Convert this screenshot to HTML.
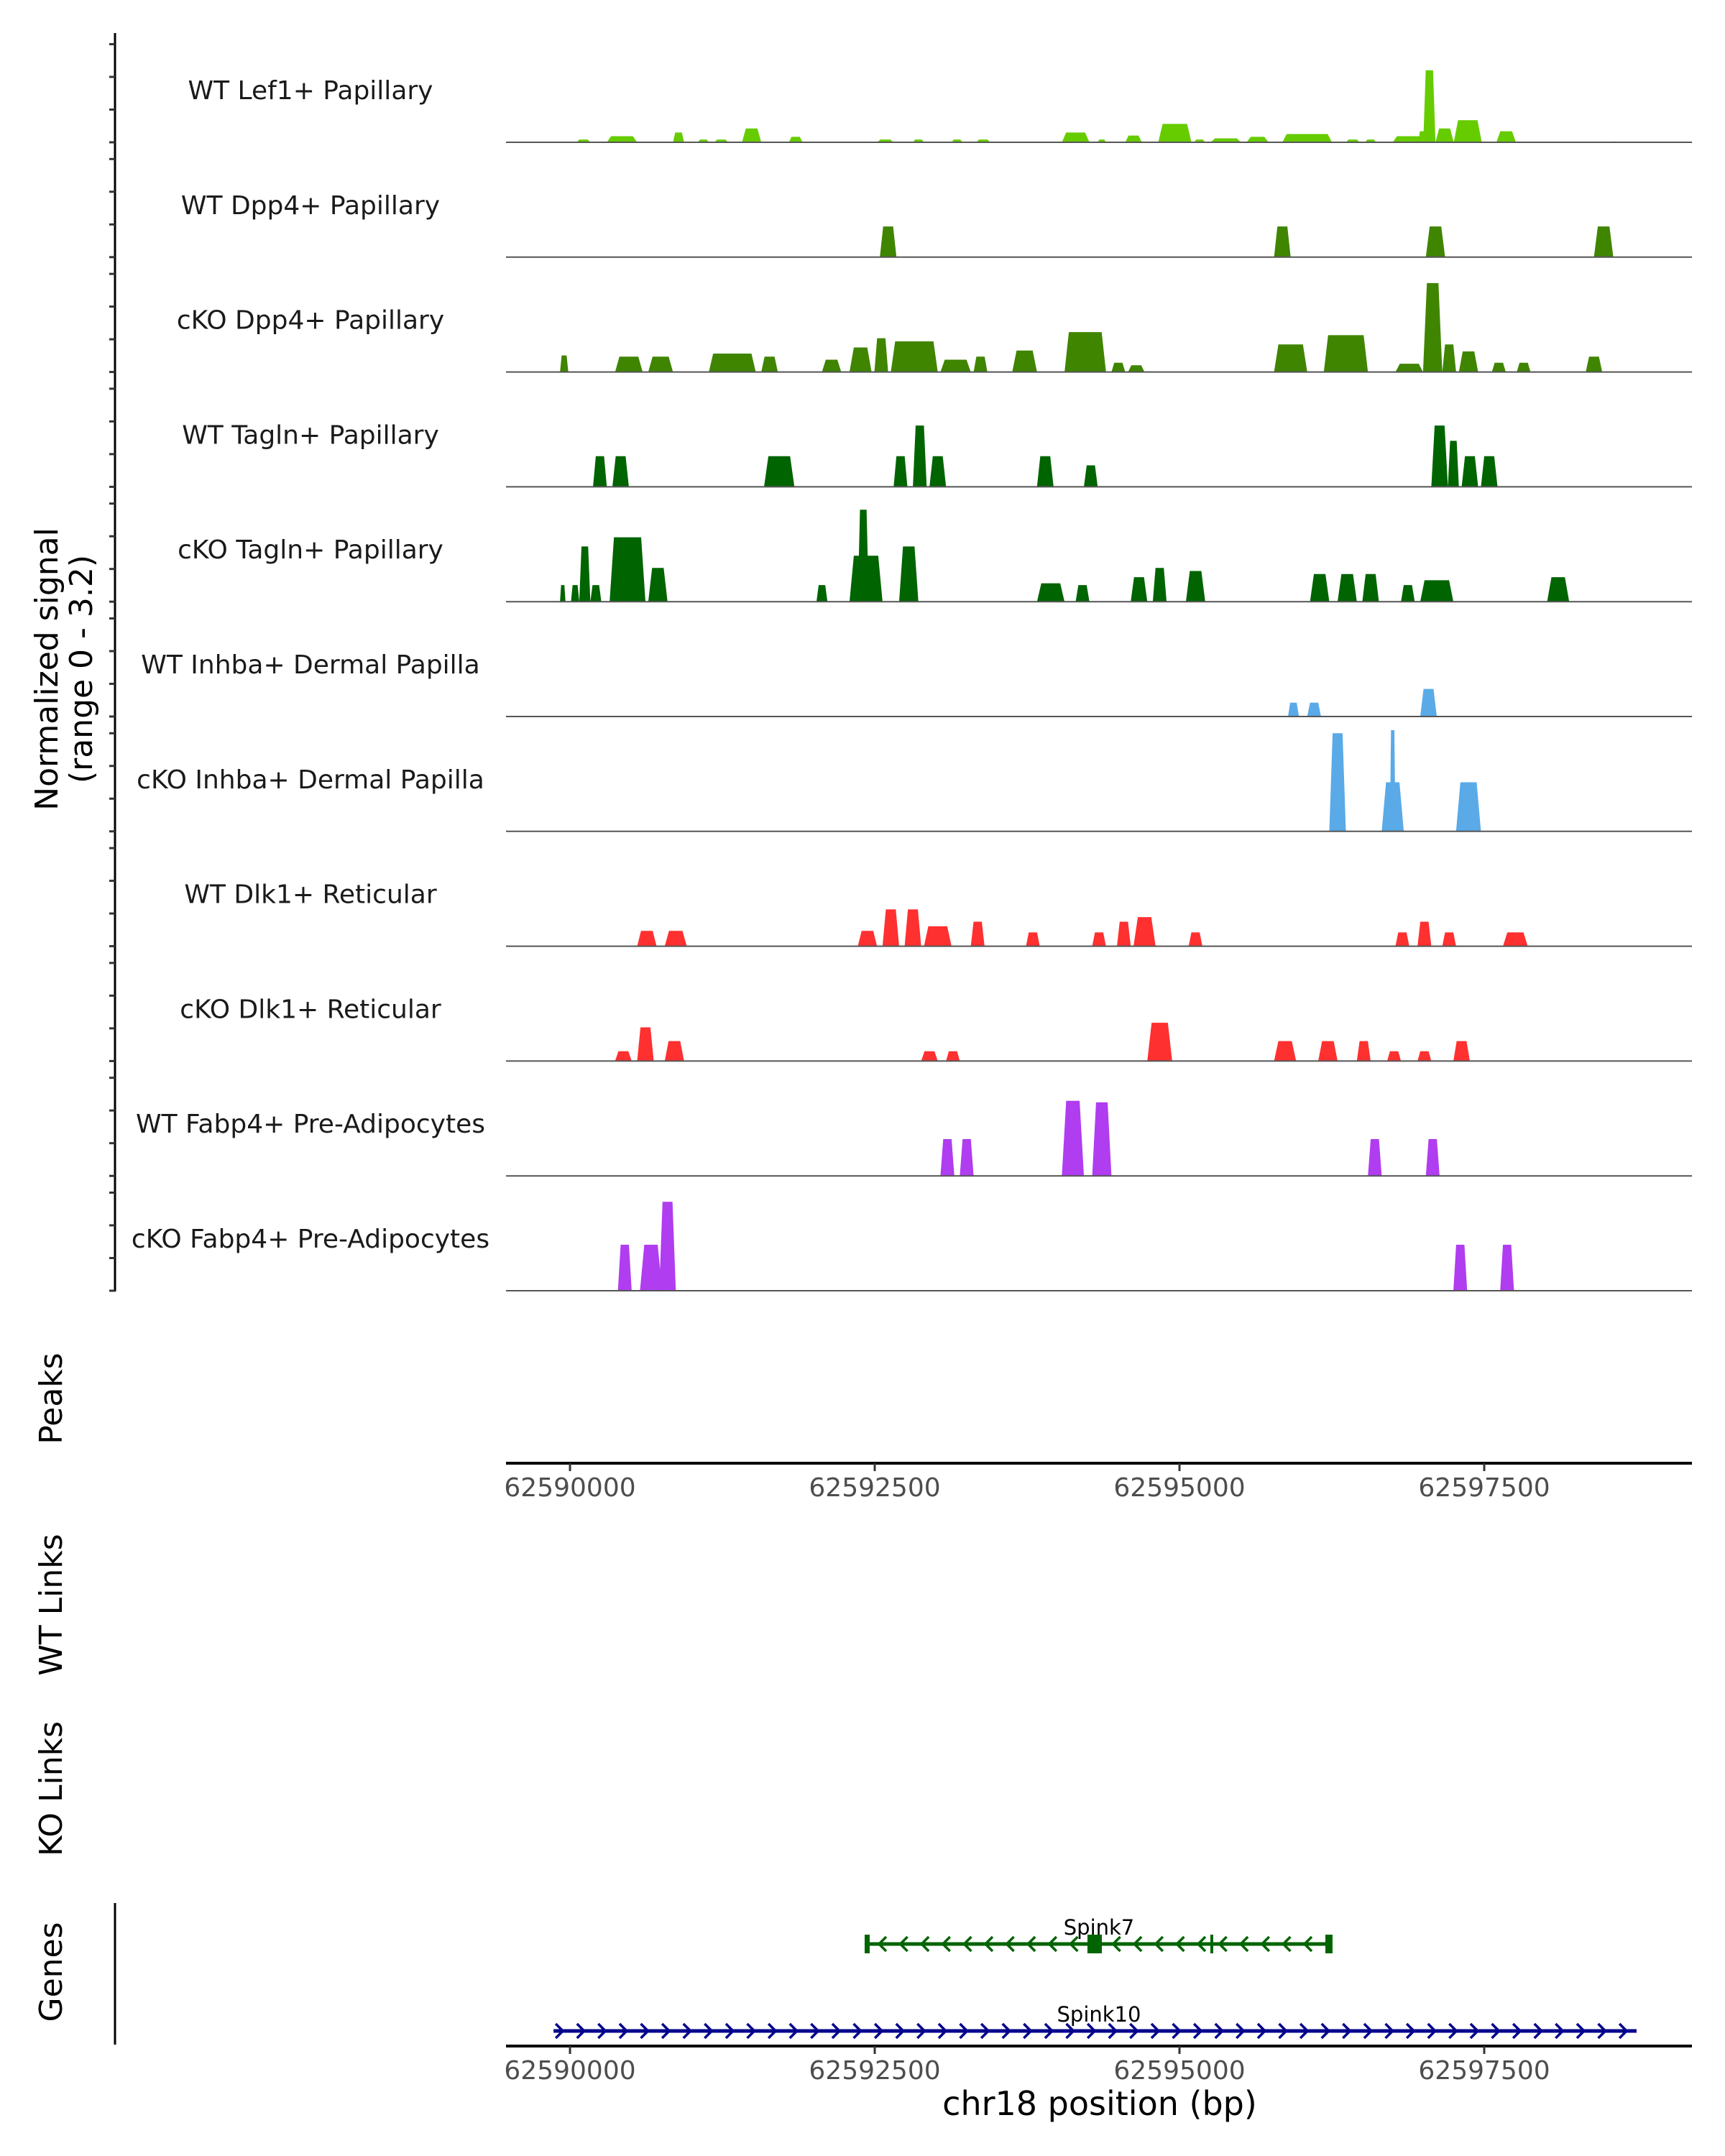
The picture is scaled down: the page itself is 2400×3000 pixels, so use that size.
<!DOCTYPE html>
<html><head><meta charset="utf-8"><style>
html,body{margin:0;padding:0;background:#fff}
svg{display:block}
text{font-family:"DejaVu Sans","Liberation Sans",sans-serif}
</style></head><body>
<svg id="chart" width="2400" height="3000" viewBox="0 0 2400 3000" xmlns="http://www.w3.org/2000/svg">
<g id="tracks"></g>
<g id="axes"></g>
<g id="genes"></g>
</svg>
<script>
const trackNames = ["WT Lef1+ Papillary","WT Dpp4+ Papillary","cKO Dpp4+ Papillary","WT Tagln+ Papillary","cKO Tagln+ Papillary","WT Inhba+ Dermal Papilla","cKO Inhba+ Dermal Papilla","WT Dlk1+ Reticular","cKO Dlk1+ Reticular","WT Fabp4+ Pre-Adipocytes","cKO Fabp4+ Pre-Adipocytes"];
const trackColors = ["#66cc00","#3f8500","#3f8500","#006400","#006400","#5aaae8","#5aaae8","#ff3030","#ff3030","#b03df0","#b03df0"];
const xTicks = [62590000,62592500,62595000,62597500];
const xDomain = [62589475,62599204];
const yMax = 3.2;
// segments per track: [startBp, endBp, value]
const lef1WT = [[62590054,62590167,0.09],[62590302,62590551,0.2],[62590845,62590936,0.32],[62591049,62591139,0.09],[62591185,62591298,0.09],[62591411,62591569,0.45],[62591795,62591908,0.18],[62592519,62592655,0.09],[62592813,62592904,0.09],[62593130,62593220,0.09],[62593333,62593447,0.09],[62594035,62594261,0.32],[62594329,62594397,0.09],[62594555,62594691,0.22],[62594826,62595098,0.6],[62595120,62595211,0.09],[62595256,62595505,0.13],[62595550,62595731,0.18],[62595844,62596251,0.27],[62596365,62596478,0.09],[62596523,62596613,0.09],[62596749,62597000,0.2],[62596960,62597021,0.36],[62597000,62597100,2.35],[62597100,62597250,0.45],[62597250,62597480,0.72],[62597600,62597760,0.36],[62598560,62598580,0.03]];
const dpp4WT = [[62592542,62592678,1.0],[62595776,62595912,1.0],[62597021,62597179,1.0],[62598400,62598559,1.0]];
const dpp4KO = [[62589918,62589986,0.54],[62590370,62590596,0.5],[62590642,62590845,0.5],[62591139,62591524,0.6],[62591569,62591705,0.5],[62592067,62592225,0.4],[62592293,62592474,0.8],[62592497,62592610,1.1],[62592632,62593017,1.0],[62593039,62593288,0.4],[62593311,62593424,0.5],[62593628,62593831,0.7],[62594057,62594397,1.3],[62594442,62594555,0.3],[62594578,62594713,0.22],[62595776,62596048,0.9],[62596184,62596546,1.2],[62596772,62596998,0.27],[62596998,62597156,2.9],[62597156,62597269,0.9],[62597292,62597450,0.67],[62597563,62597677,0.3],[62597767,62597880,0.3],[62598333,62598468,0.5]];
const taglnWT = [[62590189,62590302,1.0],[62590348,62590483,1.0],[62591592,62591841,1.0],[62592655,62592768,1.0],[62592813,62592926,2.0],[62592949,62593085,1.0],[62593831,62593967,1.0],[62594216,62594329,0.7],[62597066,62597202,2.0],[62597202,62597292,1.5],[62597315,62597450,1.0],[62597473,62597609,1.0]];
const taglnKO = [[62589918,62589963,0.54],[62590008,62590076,0.54],[62590076,62590167,1.8],[62590167,62590257,0.54],[62590325,62590619,2.1],[62590642,62590800,1.1],[62592022,62592112,0.54],[62592293,62592564,1.5],[62592361,62592451,3.0],[62592700,62592858,1.8],[62593831,62594057,0.6],[62594148,62594261,0.54],[62594600,62594736,0.8],[62594781,62594894,1.1],[62595053,62595211,1.0],[62596071,62596229,0.9],[62596297,62596455,0.9],[62596500,62596636,0.9],[62596817,62596930,0.54],[62596975,62597247,0.7],[62598016,62598197,0.8]];
const inhbaWT = [[62595890,62595980,0.45],[62596048,62596161,0.45],[62596975,62597111,0.9]];
const inhbaKO = [[62596229,62596365,3.2],[62596659,62596840,1.6],[62596726,62596772,3.3],[62597269,62597473,1.6]];
const dlk1WT = [[62590551,62590710,0.5],[62590777,62590958,0.5],[62592361,62592519,0.5],[62592564,62592700,1.2],[62592745,62592881,1.2],[62592904,62593130,0.65],[62593288,62593401,0.8],[62593741,62593854,0.45],[62594284,62594397,0.45],[62594487,62594600,0.8],[62594623,62594804,0.95],[62595075,62595188,0.45],[62596772,62596885,0.45],[62596953,62597066,0.8],[62597156,62597269,0.45],[62597654,62597857,0.45]];
const dlk1KO = [[62590370,62590506,0.32],[62590551,62590687,1.1],[62590777,62590936,0.65],[62592881,62593017,0.32],[62593085,62593198,0.32],[62594736,62594940,1.25],[62595776,62595957,0.65],[62596138,62596297,0.65],[62596455,62596568,0.65],[62596704,62596817,0.32],[62596953,62597066,0.32],[62597247,62597382,0.65]];
const fabp4WT = [[62593039,62593153,1.2],[62593198,62593311,1.2],[62594035,62594216,2.45],[62594284,62594442,2.4],[62596546,62596659,1.2],[62597021,62597134,1.2]];
const fabp4KO = [[62590393,62590506,1.5],[62590574,62590755,1.5],[62590732,62590868,2.9],[62597247,62597360,1.5],[62597631,62597744,1.5]];
const trackData = [lef1WT,dpp4WT,dpp4KO,taglnWT,taglnKO,inhbaWT,inhbaKO,dlk1WT,dlk1KO,fabp4WT,fabp4KO];
const spink7 = [62592435,62596232];
const spink7Cds = [62594245,62594363];
const spink7Tick = 62595265;
const spink10 = [62589865,62598750];

const NS="http://www.w3.org/2000/svg";
const X0=704,X1=2354;
function xs(bp){return X0+(bp-xDomain[0])/(xDomain[1]-xDomain[0])*(X1-X0);}
const TRACK_H=136.5, B0=198, STEP=159.8;
function ys(v,b){return b-v/yMax*TRACK_H;}
function mk(tag,attrs,parent){const e=document.createElementNS(NS,tag);for(const k in attrs)e.setAttribute(k,attrs[k]);parent.appendChild(e);return e;}
const gT=document.getElementById('tracks'),gA=document.getElementById('axes'),gG=document.getElementById('genes');

let la=mk('line',{x1:160,y1:46,x2:160,y2:1797,stroke:'#000','stroke-width':3},gA);



trackNames.forEach((name,i)=>{
  const b=B0+i*STEP;
  const g=mk('g',{},gT);
  
  
  for(let k=0;k<4;k++){
    const t=mk('line',{x1:152,x2:160,y1:b-k*TRACK_H/3,y2:b-k*TRACK_H/3,stroke:'#333','stroke-width':3},gA);
    
    
  }
  const lab=mk('text',{x:432,y:b-60,'text-anchor':'middle','font-size':36,fill:'#1a1a1a'},g);
  lab.textContent=name;
  
  
  trackData[i].forEach(s=>{
    const x1=xs(s[0]),x2=xs(s[1]),y=ys(s[2],b);
    const r=Math.min((x2-x1)*0.2,6);
    const p=mk('polygon',{points:`${x1},${b} ${x1+r},${y} ${x2-r},${y} ${x2},${b}`,fill:trackColors[i]},g);
    
    
  });
  const bl=mk('line',{x1:X0,x2:X1,y1:b,y2:b,stroke:'#555','stroke-width':2},g);
  
  
});

function xAxis(y,name){
  const g=mk('g',{},gA);
  
  
  mk('line',{x1:X0,x2:X1,y1:y,y2:y,stroke:'#000','stroke-width':4},g);
  xTicks.forEach(t=>{
    const x=xs(t);
    mk('line',{x1:x,x2:x,y1:y,y2:y+11,stroke:'#333','stroke-width':3},g);
    const tx=mk('text',{x:x,y:y+46,'text-anchor':'middle','font-size':36,fill:'#4d4d4d'},g);
    tx.textContent=t;
    
    
  });
}
xAxis(2036,'peaks-x-axis');
xAxis(2847,'genes-x-axis');

function rotText(txt,x,y,name){
  const t=mk('text',{x:0,y:0,transform:`translate(${x},${y}) rotate(-90)`,'text-anchor':'middle','font-size':44,fill:'#000'},gA);
  t.textContent=txt;
  
  
}
rotText('Normalized signal',80,931,'y-axis-title');
rotText('(range 0 - 3.2)',128,931,'y-axis-subtitle');
rotText('Peaks',86,1946,'peaks-title');
rotText('WT Links',86,2233,'wt-links-title');
rotText('KO Links',86,2489,'ko-links-title');
rotText('Genes',86,2744,'genes-title');
const xt=mk('text',{x:1530,y:2943,'text-anchor':'middle','font-size':46,fill:'#000'},gA);
xt.textContent='chr18 position (bp)';



const gl=mk('line',{x1:160,x2:160,y1:2648,y2:2845,stroke:'#000','stroke-width':3},gG);


function gene(range,y,color,dir,label,name,step){
  const g=mk('g',{},gG);
  
  
  const a=xs(range[0]),b=xs(range[1]);
  mk('line',{x1:a,x2:b,y1:y,y2:y,stroke:color,'stroke-width':5},g);
  for(let x=a+(dir<0?22:8);x<b-6;x+=step){
    mk('polyline',{points:`${x-5*dir},${y-10} ${x+5*dir},${y} ${x-5*dir},${y+10}`,fill:'none',stroke:color,'stroke-width':3.5},g);
  }
  const t=mk('text',{x:1529,y:y-13,'text-anchor':'middle','font-size':29,fill:'#000'},g);
  t.textContent=label;
  return [g,a,b];
}
const [g7,a7,b7]=gene(spink7,2705,'#006400',-1,'Spink7','gene-spink7',29.6);
mk('rect',{x:a7-3,y:2692,width:7,height:26,fill:'#006400'},g7);
mk('rect',{x:b7-6,y:2692,width:10,height:26,fill:'#006400'},g7);
mk('rect',{x:xs(spink7Cds[0]),y:2692,width:xs(spink7Cds[1])-xs(spink7Cds[0]),height:26,fill:'#006400'},g7);
mk('rect',{x:xs(spink7Tick)-2,y:2692,width:4,height:26,fill:'#006400'},g7);
gene(spink10,2826,'#00008b',1,'Spink10','gene-spink10',29.6);
</script>
</body></html>
